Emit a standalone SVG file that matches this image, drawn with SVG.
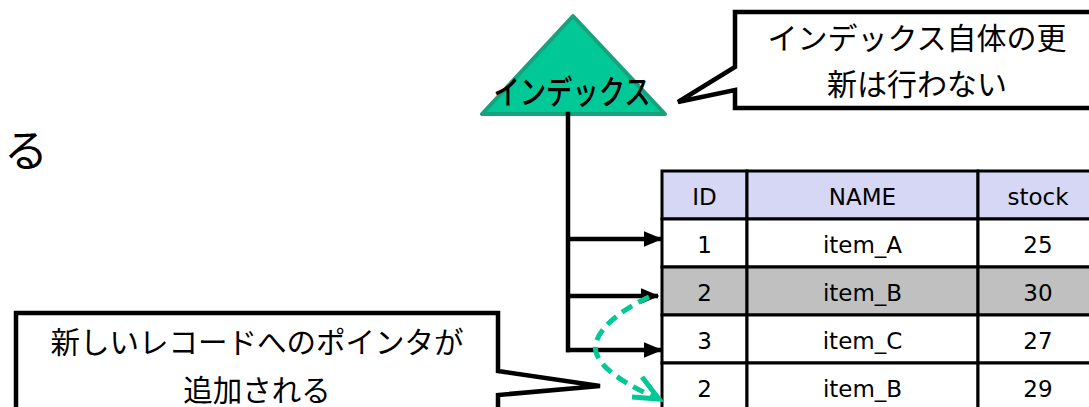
<svg xmlns="http://www.w3.org/2000/svg" width="1089" height="407" viewBox="0 0 1089 407">
  <style>
    .jp { font-family: "Noto Sans CJK JP", "Noto Sans", sans-serif; fill: #000; text-anchor: middle; }
    .cell { stroke: #000; stroke-width: 3; }
    .hdr { fill: #D6D6F5; }
    .wht { fill: #FFFFFF; }
    .gry { fill: #C0C0C0; }
    .tx { font-family: "DejaVu Sans", Verdana, sans-serif; font-size: 23px; fill: #000; text-anchor: middle; }
    .callout { fill: #FFFFFF; stroke: #000; stroke-width: 4.5; stroke-linejoin: miter; }
    .branch { fill: none; stroke: #000; stroke-width: 4.5; }
  </style>
  <defs>
    <marker id="ah" viewBox="0 0 12 10" refX="11" refY="5" markerWidth="4.2" markerHeight="3.5" orient="auto" markerUnits="strokeWidth">
      <path d="M0,0 L12,5 L0,10 Z" fill="#000"/>
    </marker>
  </defs>

  <rect width="1089" height="407" fill="#FFFFFF"/>

  <g id="fragment">
    <text class="jp" x="26" y="167" font-size="44">る</text>
  </g>

  <g id="index">
    <polygon points="573,16 482,114 665,114" fill="#00C896" stroke="#18A27C" stroke-width="4" stroke-linejoin="round"/>
    <text class="jp" x="572" y="104" font-size="33" font-weight="500" textLength="157" lengthAdjust="spacingAndGlyphs">インデックス</text>
  </g>

  <g id="callout-top">
    <path class="callout" d="M735,12 H1100 V108 H735 V90 L678,102 L735,67 Z"/>
    <text class="jp" x="917" y="49" font-size="30">インデックス自体の更</text>
    <text class="jp" x="917" y="95" font-size="30">新は行わない</text>
  </g>

  <g id="callout-left">
    <path class="callout" d="M16,313 H498 V371 L600,386 L498,395 V420 H16 Z"/>
    <text class="jp" x="257" y="353" font-size="29.5">新しいレコードへのポインタが</text>
    <text class="jp" x="257" y="401" font-size="29.5">追加される</text>
  </g>

  <g id="table">
    <rect class="cell hdr" x="662" y="171" width="85" height="48"/>
    <rect class="cell hdr" x="747" y="171" width="231" height="48"/>
    <rect class="cell hdr" x="978" y="171" width="122" height="48"/>
    <rect class="cell wht" x="662" y="219" width="85" height="48"/>
    <rect class="cell wht" x="747" y="219" width="231" height="48"/>
    <rect class="cell wht" x="978" y="219" width="122" height="48"/>
    <rect class="cell gry" x="662" y="267" width="85" height="48"/>
    <rect class="cell gry" x="747" y="267" width="231" height="48"/>
    <rect class="cell gry" x="978" y="267" width="122" height="48"/>
    <rect class="cell wht" x="662" y="315" width="85" height="48"/>
    <rect class="cell wht" x="747" y="315" width="231" height="48"/>
    <rect class="cell wht" x="978" y="315" width="122" height="48"/>
    <rect class="cell wht" x="662" y="363" width="85" height="60"/>
    <rect class="cell wht" x="747" y="363" width="231" height="60"/>
    <rect class="cell wht" x="978" y="363" width="122" height="60"/>

    <text class="tx" x="704.5" y="205">ID</text>
    <text class="tx" x="862.5" y="205">NAME</text>
    <text class="tx" x="1038" y="205">stock</text>

    <text class="tx" x="704.5" y="253">1</text>
    <text class="tx" x="862.5" y="253">item_A</text>
    <text class="tx" x="1038" y="253">25</text>

    <text class="tx" x="704.5" y="301">2</text>
    <text class="tx" x="862.5" y="301">item_B</text>
    <text class="tx" x="1038" y="301">30</text>

    <text class="tx" x="704.5" y="349">3</text>
    <text class="tx" x="862.5" y="349">item_C</text>
    <text class="tx" x="1038" y="349">27</text>

    <text class="tx" x="704.5" y="397">2</text>
    <text class="tx" x="862.5" y="397">item_B</text>
    <text class="tx" x="1038" y="397">29</text>
  </g>

  <g id="connectors">
    <path class="branch" d="M568,114 V350" stroke-linecap="square"/>
    <path class="branch" d="M566,239 H661" marker-end="url(#ah)"/>
    <path class="branch" d="M566,296 H658" marker-end="url(#ah)"/>
    <path class="branch" d="M566,350 H661" marker-end="url(#ah)"/>
    <path d="M649,297 C618,311 591,334 596,352 C601,370 628,385 654,397" fill="none" stroke="#00C896" stroke-width="5" stroke-dasharray="12,7"/>
    <path d="M642,377 L659,399 L632,397" fill="none" stroke="#00C896" stroke-width="5" stroke-linejoin="miter"/>
  </g>
</svg>
